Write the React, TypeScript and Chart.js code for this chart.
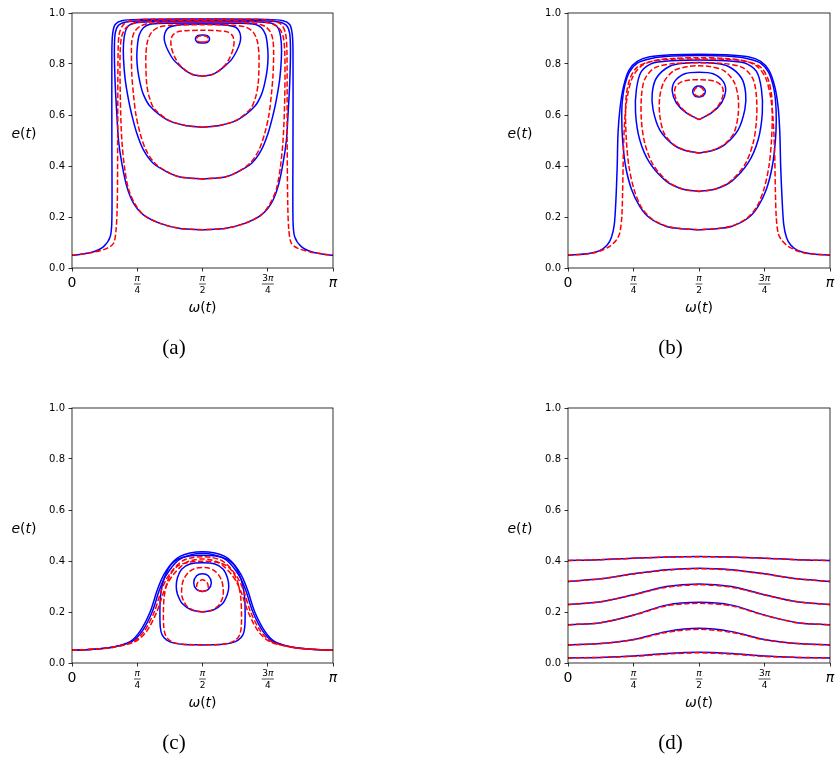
import React, { useEffect, useRef } from 'react';
import { Chart, registerables } from 'chart.js';
Chart.register(...registerables);

type Curve = [number, number][];
const PI = Math.PI;

// ---- axis ticks ----
const xTickValues = [0, PI / 4, PI / 2, (3 * PI) / 4, PI];
const xTickLabels = ['0', 'π/4', 'π/2', '3π/4', 'π'];
const yTickValues = [0, 0.2, 0.4, 0.6, 0.8, 1.0];
const xAxisLabel = 'ω(t)';
const yAxisLabel = 'e(t)';
const panelLetters = ['(a)', '(b)', '(c)', '(d)'];

// ---- panel (a) ----
const aOpenBlue: Curve = [[0,0.05],[0.13,0.055],[0.26,0.064],[0.38,0.084],[0.46,0.123],[0.48,0.19],[0.48,0.5],[0.48,0.85],[0.49,0.92],[0.52,0.955],[0.6,0.97],[0.8,0.975],[1.571,0.976],[2.34,0.975],[2.54,0.97],[2.62,0.955],[2.65,0.92],[2.66,0.85],[2.66,0.5],[2.66,0.19],[2.68,0.123],[2.76,0.084],[2.88,0.064],[3.01,0.055],[3.1416,0.05]];
const aOpenRed: Curve = [[0,0.05],[0.13,0.055],[0.26,0.062],[0.42,0.077],[0.5,0.097],[0.53,0.149],[0.545,0.25],[0.55,0.5],[0.555,0.85],[0.57,0.92],[0.62,0.955],[0.72,0.97],[0.95,0.975],[1.571,0.976],[2.19,0.975],[2.42,0.97],[2.52,0.955],[2.57,0.92],[2.587,0.85],[2.59,0.5],[2.597,0.25],[2.61,0.149],[2.64,0.097],[2.72,0.077],[2.88,0.062],[3.01,0.055],[3.1416,0.05]];
const aC1Blue: Curve = [[1.571,0.15],[1.3,0.155],[1.06,0.175],[0.86,0.208],[0.74,0.254],[0.66,0.319],[0.6,0.41],[0.56,0.5],[0.54,0.6],[0.52,0.72],[0.51,0.85],[0.52,0.92],[0.56,0.952],[0.65,0.965],[0.85,0.97],[1.571,0.971],[2.29,0.97],[2.49,0.965],[2.58,0.952],[2.62,0.92],[2.63,0.85],[2.62,0.72],[2.6,0.6],[2.58,0.5],[2.54,0.41],[2.48,0.319],[2.4,0.254],[2.28,0.208],[2.08,0.175],[1.84,0.155],[1.571,0.15]];
const aC1Red: Curve = [[1.571,0.15],[1.3,0.155],[1.06,0.175],[0.87,0.206],[0.76,0.25],[0.68,0.31],[0.63,0.4],[0.6,0.5],[0.585,0.62],[0.578,0.75],[0.58,0.85],[0.6,0.91],[0.66,0.945],[0.78,0.962],[1.0,0.968],[1.571,0.97],[2.14,0.968],[2.36,0.962],[2.48,0.945],[2.54,0.91],[2.56,0.85],[2.564,0.75],[2.557,0.62],[2.54,0.5],[2.51,0.4],[2.46,0.31],[2.38,0.25],[2.27,0.206],[2.08,0.175],[1.84,0.155],[1.571,0.15]];
const aC2Blue: Curve = [[1.571,0.349],[1.3,0.357],[1.18,0.371],[0.98,0.41],[0.86,0.463],[0.78,0.528],[0.72,0.6],[0.68,0.66],[0.64,0.74],[0.62,0.82],[0.62,0.88],[0.64,0.925],[0.68,0.95],[0.76,0.962],[0.95,0.966],[1.571,0.967],[2.19,0.966],[2.38,0.962],[2.46,0.95],[2.5,0.925],[2.52,0.88],[2.52,0.82],[2.5,0.74],[2.46,0.66],[2.42,0.6],[2.36,0.528],[2.28,0.463],[2.16,0.41],[1.96,0.371],[1.84,0.357],[1.571,0.349]];
const aC2Red: Curve = [[1.571,0.349],[1.3,0.357],[1.18,0.371],[1.0,0.41],[0.89,0.463],[0.82,0.528],[0.77,0.6],[0.74,0.68],[0.72,0.76],[0.715,0.84],[0.72,0.89],[0.75,0.925],[0.82,0.948],[0.95,0.96],[1.571,0.965],[2.19,0.96],[2.32,0.948],[2.39,0.925],[2.42,0.89],[2.427,0.84],[2.42,0.76],[2.4,0.68],[2.37,0.6],[2.32,0.528],[2.25,0.463],[2.14,0.41],[1.96,0.371],[1.84,0.357],[1.571,0.349]];
const aC3Blue: Curve = [[1.571,0.552],[1.35,0.56],[1.14,0.582],[0.94,0.634],[0.86,0.68],[0.82,0.725],[0.79,0.78],[0.78,0.83],[0.79,0.88],[0.81,0.915],[0.86,0.942],[0.93,0.955],[1.1,0.96],[1.571,0.961],[2.04,0.96],[2.21,0.955],[2.28,0.942],[2.33,0.915],[2.35,0.88],[2.36,0.83],[2.35,0.78],[2.32,0.725],[2.28,0.68],[2.2,0.634],[2.0,0.582],[1.79,0.56],[1.571,0.552]];
const aC3Red: Curve = [[1.571,0.552],[1.35,0.56],[1.16,0.58],[0.99,0.625],[0.93,0.67],[0.9,0.72],[0.89,0.78],[0.89,0.84],[0.91,0.89],[0.96,0.925],[1.05,0.945],[1.2,0.952],[1.571,0.954],[1.94,0.952],[2.09,0.945],[2.18,0.925],[2.23,0.89],[2.25,0.84],[2.25,0.78],[2.24,0.72],[2.21,0.67],[2.15,0.625],[1.98,0.58],[1.79,0.56],[1.571,0.552]];
const aC4Blue: Curve = [[1.571,0.752],[1.46,0.758],[1.38,0.771],[1.29,0.795],[1.22,0.817],[1.16,0.85],[1.12,0.882],[1.11,0.908],[1.13,0.93],[1.17,0.944],[1.27,0.952],[1.38,0.955],[1.571,0.957],[1.76,0.955],[1.87,0.952],[1.97,0.944],[2.01,0.93],[2.03,0.908],[2.02,0.882],[1.98,0.85],[1.92,0.817],[1.85,0.795],[1.76,0.771],[1.68,0.758],[1.571,0.752]];
const aC4Red: Curve = [[1.571,0.752],[1.46,0.758],[1.38,0.772],[1.3,0.795],[1.24,0.825],[1.2,0.86],[1.19,0.89],[1.21,0.912],[1.27,0.926],[1.4,0.931],[1.571,0.932],[1.74,0.931],[1.87,0.926],[1.93,0.912],[1.95,0.89],[1.94,0.86],[1.9,0.825],[1.84,0.795],[1.76,0.772],[1.68,0.758],[1.571,0.752]];
const aC5Blue: Curve = [[1.571,0.882],[1.51,0.885],[1.486,0.898],[1.51,0.911],[1.571,0.914],[1.63,0.911],[1.656,0.898],[1.63,0.885],[1.571,0.882]];
const aC5Red: Curve = [[1.571,0.886],[1.52,0.888],[1.5,0.898],[1.52,0.908],[1.571,0.911],[1.62,0.908],[1.64,0.898],[1.62,0.888],[1.571,0.886]];

// ---- panel (b) ----
const bOpenBlue: Curve = [[0,0.05],[0.25,0.057],[0.38,0.068],[0.47,0.09],[0.52,0.12],[0.555,0.17],[0.575,0.27],[0.59,0.4],[0.6,0.53],[0.625,0.63],[0.665,0.71],[0.73,0.775],[0.83,0.81],[0.98,0.828],[1.25,0.836],[1.571,0.838],[1.89,0.836],[2.16,0.828],[2.31,0.81],[2.41,0.775],[2.48,0.71],[2.52,0.63],[2.54,0.53],[2.55,0.4],[2.567,0.27],[2.587,0.17],[2.62,0.12],[2.67,0.09],[2.76,0.068],[2.89,0.057],[3.1416,0.05]];
const bOpenRed: Curve = [[0,0.05],[0.25,0.056],[0.38,0.066],[0.5,0.085],[0.58,0.11],[0.62,0.137],[0.645,0.2],[0.655,0.3],[0.665,0.46],[0.68,0.58],[0.71,0.67],[0.77,0.745],[0.87,0.79],[1.02,0.812],[1.26,0.822],[1.571,0.825],[1.88,0.822],[2.12,0.812],[2.27,0.79],[2.37,0.745],[2.43,0.67],[2.46,0.58],[2.477,0.46],[2.487,0.3],[2.497,0.2],[2.52,0.137],[2.56,0.11],[2.64,0.085],[2.76,0.066],[2.89,0.056],[3.1416,0.05]];
const bC1Blue: Curve = [[1.571,0.15],[1.37,0.154],[1.18,0.163],[0.98,0.196],[0.86,0.242],[0.76,0.31],[0.69,0.4],[0.655,0.5],[0.645,0.58],[0.65,0.65],[0.68,0.715],[0.74,0.77],[0.84,0.805],[1.0,0.822],[1.25,0.831],[1.571,0.833],[1.89,0.831],[2.14,0.822],[2.3,0.805],[2.4,0.77],[2.46,0.715],[2.49,0.65],[2.497,0.58],[2.487,0.5],[2.45,0.4],[2.38,0.31],[2.28,0.242],[2.16,0.196],[1.96,0.163],[1.77,0.154],[1.571,0.15]];
const bC1Red: Curve = [[1.571,0.15],[1.37,0.154],[1.18,0.164],[1.0,0.194],[0.88,0.238],[0.79,0.31],[0.73,0.4],[0.7,0.5],[0.69,0.6],[0.7,0.68],[0.74,0.74],[0.82,0.785],[0.97,0.808],[1.22,0.818],[1.571,0.82],[1.92,0.818],[2.17,0.808],[2.32,0.785],[2.4,0.74],[2.44,0.68],[2.45,0.6],[2.44,0.5],[2.41,0.4],[2.35,0.31],[2.26,0.238],[2.14,0.194],[1.96,0.164],[1.77,0.154],[1.571,0.15]];
const bC2Blue: Curve = [[1.571,0.3],[1.37,0.31],[1.18,0.34],[0.98,0.412],[0.86,0.503],[0.81,0.608],[0.82,0.7],[0.88,0.771],[1.02,0.804],[1.3,0.814],[1.571,0.816],[1.84,0.814],[2.12,0.804],[2.26,0.771],[2.32,0.7],[2.33,0.608],[2.28,0.503],[2.16,0.412],[1.96,0.34],[1.77,0.31],[1.571,0.3]];
const bC2Red: Curve = [[1.571,0.3],[1.37,0.31],[1.2,0.338],[1.02,0.405],[0.92,0.49],[0.88,0.58],[0.88,0.67],[0.92,0.74],[1.04,0.785],[1.28,0.802],[1.571,0.805],[1.86,0.802],[2.1,0.785],[2.22,0.74],[2.26,0.67],[2.26,0.58],[2.22,0.49],[2.12,0.405],[1.94,0.338],[1.77,0.31],[1.571,0.3]];
const bC3Blue: Curve = [[1.571,0.451],[1.4,0.462],[1.26,0.484],[1.1,0.542],[1.02,0.621],[1.01,0.686],[1.06,0.745],[1.22,0.791],[1.42,0.804],[1.571,0.806],[1.72,0.804],[1.92,0.791],[2.08,0.745],[2.13,0.686],[2.12,0.621],[2.04,0.542],[1.88,0.484],[1.74,0.462],[1.571,0.451]];
const bC3Red: Curve = [[1.571,0.451],[1.4,0.462],[1.26,0.486],[1.15,0.53],[1.1,0.6],[1.1,0.67],[1.15,0.73],[1.27,0.774],[1.44,0.79],[1.571,0.793],[1.7,0.79],[1.87,0.774],[1.99,0.73],[2.04,0.67],[2.04,0.6],[1.99,0.53],[1.88,0.486],[1.74,0.462],[1.571,0.451]];
const bC4Blue: Curve = [[1.571,0.582],[1.42,0.608],[1.3,0.647],[1.25,0.693],[1.28,0.732],[1.4,0.762],[1.571,0.768],[1.74,0.762],[1.86,0.732],[1.89,0.693],[1.84,0.647],[1.72,0.608],[1.571,0.582]];
const bC4Red: Curve = [[1.571,0.582],[1.44,0.605],[1.33,0.64],[1.28,0.68],[1.29,0.71],[1.36,0.73],[1.46,0.737],[1.571,0.738],[1.68,0.737],[1.78,0.73],[1.85,0.71],[1.86,0.68],[1.81,0.64],[1.7,0.605],[1.571,0.582]];
const bC5Blue: Curve = [[1.571,0.67],[1.52,0.675],[1.495,0.692],[1.52,0.709],[1.571,0.714],[1.62,0.709],[1.647,0.692],[1.62,0.675],[1.571,0.67]];
const bC5Red: Curve = [[1.571,0.673],[1.53,0.677],[1.51,0.69],[1.53,0.705],[1.571,0.709],[1.61,0.705],[1.63,0.69],[1.61,0.677],[1.571,0.673]];

// ---- panel (c) ----
const cOpenBlue: Curve = [[0,0.05],[0.3,0.055],[0.5,0.063],[0.7,0.084],[0.82,0.125],[0.94,0.2],[1.02,0.28],[1.08,0.33],[1.14,0.365],[1.22,0.398],[1.3,0.418],[1.42,0.431],[1.571,0.436],[1.72,0.431],[1.84,0.418],[1.92,0.398],[2.0,0.365],[2.06,0.33],[2.12,0.28],[2.2,0.2],[2.32,0.125],[2.44,0.084],[2.64,0.063],[2.84,0.055],[3.1416,0.05]];
const cXBlue: Curve = [[0,0.05],[0.3,0.055],[0.5,0.063],[0.72,0.084],[0.845,0.125],[0.965,0.2],[1.045,0.28],[1.105,0.328],[1.165,0.36],[1.245,0.392],[1.325,0.412],[1.44,0.425],[1.571,0.43],[1.7,0.425],[1.817,0.412],[1.897,0.392],[1.977,0.36],[2.037,0.328],[2.097,0.28],[2.177,0.2],[2.297,0.125],[2.42,0.084],[2.64,0.063],[2.84,0.055],[3.1416,0.05]];
const cC1Blue: Curve = [[1.571,0.071],[1.35,0.073],[1.23,0.078],[1.14,0.09],[1.085,0.11],[1.063,0.14],[1.058,0.2],[1.065,0.26],[1.09,0.31],[1.13,0.35],[1.19,0.385],[1.28,0.408],[1.41,0.42],[1.571,0.423],[1.73,0.42],[1.86,0.408],[1.95,0.385],[2.01,0.35],[2.05,0.31],[2.077,0.26],[2.084,0.2],[2.079,0.14],[2.057,0.11],[2.0,0.09],[1.91,0.078],[1.79,0.073],[1.571,0.071]];
const cC2Blue: Curve = [[1.571,0.2],[1.44,0.208],[1.33,0.232],[1.27,0.27],[1.255,0.3],[1.27,0.335],[1.32,0.368],[1.42,0.388],[1.571,0.393],[1.72,0.388],[1.82,0.368],[1.87,0.335],[1.887,0.3],[1.87,0.27],[1.81,0.232],[1.7,0.208],[1.571,0.2]];
const cC3Blue: Curve = [[1.571,0.28],[1.5,0.288],[1.465,0.315],[1.5,0.342],[1.571,0.35],[1.64,0.342],[1.677,0.315],[1.64,0.288],[1.571,0.28]];
const cOpenRed: Curve = [[0,0.05],[0.3,0.055],[0.5,0.062],[0.74,0.084],[0.87,0.125],[0.99,0.2],[1.07,0.28],[1.13,0.325],[1.19,0.355],[1.27,0.385],[1.35,0.404],[1.46,0.414],[1.571,0.417],[1.68,0.414],[1.79,0.404],[1.87,0.385],[1.95,0.355],[2.01,0.325],[2.07,0.28],[2.15,0.2],[2.27,0.125],[2.4,0.084],[2.64,0.062],[2.84,0.055],[3.1416,0.05]];
const cXRed: Curve = [[0,0.05],[0.3,0.055],[0.5,0.062],[0.76,0.084],[0.9,0.125],[1.02,0.2],[1.1,0.275],[1.16,0.318],[1.22,0.347],[1.3,0.375],[1.38,0.395],[1.48,0.405],[1.571,0.408],[1.66,0.405],[1.76,0.395],[1.84,0.375],[1.92,0.347],[1.98,0.318],[2.04,0.275],[2.12,0.2],[2.24,0.125],[2.38,0.084],[2.64,0.062],[2.84,0.055],[3.1416,0.05]];
const cC1Red: Curve = [[1.571,0.071],[1.35,0.073],[1.25,0.078],[1.17,0.09],[1.125,0.11],[1.105,0.14],[1.1,0.2],[1.11,0.26],[1.14,0.31],[1.19,0.35],[1.27,0.38],[1.4,0.395],[1.571,0.399],[1.74,0.395],[1.87,0.38],[1.95,0.35],[2.0,0.31],[2.03,0.26],[2.04,0.2],[2.037,0.14],[2.017,0.11],[1.97,0.09],[1.89,0.078],[1.79,0.073],[1.571,0.071]];
const cC2Red: Curve = [[1.571,0.2],[1.46,0.207],[1.37,0.228],[1.325,0.26],[1.32,0.29],[1.34,0.325],[1.4,0.355],[1.48,0.371],[1.571,0.375],[1.66,0.371],[1.74,0.355],[1.8,0.325],[1.82,0.29],[1.817,0.26],[1.77,0.228],[1.68,0.207],[1.571,0.2]];
const cC3Red: Curve = [[1.571,0.28],[1.52,0.285],[1.5,0.3],[1.52,0.318],[1.571,0.326],[1.62,0.318],[1.64,0.3],[1.62,0.285],[1.571,0.28]];

// ---- panel (d) ----
const dOmega = [0, 0.393, 0.785, 1.178, 1.571, 1.963, 2.356, 2.749, 3.1416];
const dBlue1 = [0.402, 0.405, 0.411, 0.416, 0.418, 0.416, 0.411, 0.405, 0.402];
const dBlue2 = [0.32, 0.33, 0.35, 0.366, 0.372, 0.366, 0.35, 0.33, 0.32];
const dBlue3 = [0.229, 0.24, 0.268, 0.3, 0.31, 0.3, 0.268, 0.24, 0.229];
const dBlue4 = [0.15, 0.158, 0.188, 0.227, 0.238, 0.227, 0.188, 0.158, 0.15];
const dBlue5 = [0.071, 0.076, 0.092, 0.123, 0.136, 0.123, 0.092, 0.076, 0.071];
const dBlue6 = [0.02, 0.022, 0.027, 0.037, 0.042, 0.037, 0.027, 0.022, 0.02];
const dRed1 = [0.402, 0.405, 0.411, 0.415, 0.417, 0.415, 0.411, 0.405, 0.402];
const dRed2 = [0.32, 0.33, 0.349, 0.364, 0.37, 0.364, 0.349, 0.33, 0.32];
const dRed3 = [0.229, 0.24, 0.267, 0.297, 0.307, 0.297, 0.267, 0.24, 0.229];
const dRed4 = [0.15, 0.158, 0.187, 0.224, 0.234, 0.224, 0.187, 0.158, 0.15];
const dRed5 = [0.071, 0.076, 0.091, 0.12, 0.132, 0.12, 0.091, 0.076, 0.071];
const dRed6 = [0.02, 0.022, 0.026, 0.035, 0.04, 0.035, 0.026, 0.022, 0.02];

const toCurve = (vals: number[]): Curve => vals.map((v, i) => [dOmega[i], v]);

const BLUE = '#0000ff';
const RED = '#ff0000';
const FONT = '"DejaVu Sans", sans-serif';
const isItalic = (ch: string) => /[a-zA-Z\u03b1-\u03c9]/.test(ch);

function mathWidth(ctx: CanvasRenderingContext2D, text: string, size: number) {
  let total = 0;
  Array.from(text).forEach((ch) => {
    ctx.font = `${isItalic(ch) ? 'italic ' : ''}${size}px ${FONT}`;
    total += ctx.measureText(ch).width;
  });
  return total;
}

function drawMath(ctx: CanvasRenderingContext2D, text: string, x: number, y: number, size: number) {
  const total = mathWidth(ctx, text, size);
  let cx = x - total / 2;
  ctx.textAlign = 'left';
  ctx.textBaseline = 'alphabetic';
  Array.from(text).forEach((ch) => {
    ctx.font = `${isItalic(ch) ? 'italic ' : ''}${size}px ${FONT}`;
    ctx.fillText(ch, cx, y);
    cx += ctx.measureText(ch).width;
  });
}

const decoPlugin = {
  id: 'deco',
  afterDraw(chart: any, _args: any, opts: any) {
    const { ctx, chartArea } = chart;
    const { left, right, top, bottom } = chartArea;
    ctx.save();
    ctx.strokeStyle = '#000';
    ctx.lineWidth = 0.8;
    ctx.strokeRect(left, top, right - left, bottom - top);
    ctx.fillStyle = '#000';
    const xs = chart.scales.x;
    xTickValues.forEach((v, i) => {
      const px = xs.getPixelForValue(v);
      const lab = xTickLabels[i];
      if (lab.includes('/')) {
        const [num, den] = lab.split('/');
        drawMath(ctx, num, px, bottom + 13, 9);
        drawMath(ctx, den, px, bottom + 24.5, 9);
        const w = Math.max(mathWidth(ctx, num, 9), mathWidth(ctx, den, 9)) + 1;
        ctx.beginPath();
        ctx.lineWidth = 0.7;
        ctx.moveTo(px - w / 2, bottom + 16);
        ctx.lineTo(px + w / 2, bottom + 16);
        ctx.stroke();
      } else {
        drawMath(ctx, lab, px, bottom + 19, 14);
      }
    });
    const cxm = (left + right) / 2;
    drawMath(ctx, xAxisLabel, cxm, bottom + 43.5, 14);
    drawMath(ctx, yAxisLabel, left - 48, top + 125, 14);
    ctx.font = `21px "Liberation Serif", "DejaVu Serif", serif`;
    ctx.textAlign = 'center';
    ctx.textBaseline = 'alphabetic';
    ctx.fillText(opts.letter, cxm - 28.5, bottom + 86);
    ctx.restore();
  },
};

interface PanelProps {
  left: number; top: number; width: number; height: number;
  axisLeft: number; axisRight: number; letter: string;
  blue: Curve[]; red: Curve[];
}

function Panel(p: PanelProps) {
  const ref = useRef<HTMLCanvasElement>(null);
  useEffect(() => {
    if (!ref.current) return;
    const mk = (c: Curve, color: string, dashed: boolean, order: number) => ({
      data: c.map(([x, y]) => ({ x, y })),
      borderColor: color,
      backgroundColor: color,
      borderWidth: 1.5,
      borderDash: dashed ? [5.5, 2.4] : [],
      showLine: true,
      pointRadius: 0,
      pointHoverRadius: 0,
      tension: 0.3,
      fill: false,
      order,
    });
    const datasets = [
      ...p.red.map((c) => mk(c, RED, true, 0)),
      ...p.blue.map((c) => mk(c, BLUE, false, 1)),
    ];
    const gridOpts = {
      display: true,
      drawOnChartArea: false,
      drawTicks: true,
      tickLength: 3.5,
      tickColor: '#000',
      tickWidth: 0.8,
    };
    const chart = new Chart(ref.current, {
      type: 'scatter',
      data: { datasets: datasets as any },
      options: {
        responsive: false,
        animation: false,
        devicePixelRatio: 1,
        events: [],
        layout: { padding: { left: 0, top: 13, right: p.width - p.axisRight, bottom: 0 } },
        plugins: {
          legend: { display: false },
          tooltip: { enabled: false },
          deco: { letter: p.letter },
        } as any,
        scales: {
          x: {
            type: 'linear',
            min: 0,
            max: PI,
            afterBuildTicks: (s: any) => { s.ticks = xTickValues.map((v) => ({ value: v })); },
            afterFit: (s: any) => { s.height = p.height - 268; },
            ticks: { display: false },
            grid: gridOpts,
            border: { display: false },
          },
          y: {
            type: 'linear',
            min: 0,
            max: 1,
            afterBuildTicks: (s: any) => { s.ticks = yTickValues.map((v) => ({ value: v })); },
            afterFit: (s: any) => { s.width = p.axisLeft; },
            ticks: {
              padding: 3.5,
              color: '#000',
              font: { family: 'DejaVu Sans', size: 10 },
              callback: (v: any) => Number(v).toFixed(1),
            },
            grid: gridOpts,
            border: { display: false },
          },
        },
      } as any,
      plugins: [decoPlugin],
    });
    return () => chart.destroy();
  }, []);
  return (
    <canvas
      ref={ref}
      width={p.width}
      height={p.height}
      style={{ position: 'absolute', left: p.left, top: p.top, width: p.width, height: p.height }}
    />
  );
}

export default function App() {
  const panels: PanelProps[] = [
    {
      left: 0, top: 0, width: 417, height: 362, axisLeft: 72, axisRight: 333, letter: panelLetters[0],
      blue: [aOpenBlue, aC1Blue, aC2Blue, aC3Blue, aC4Blue, aC5Blue],
      red: [aOpenRed, aC1Red, aC2Red, aC3Red, aC4Red, aC5Red],
    },
    {
      left: 417, top: 0, width: 418, height: 362, axisLeft: 151, axisRight: 413, letter: panelLetters[1],
      blue: [bOpenBlue, bC1Blue, bC2Blue, bC3Blue, bC4Blue, bC5Blue],
      red: [bOpenRed, bC1Red, bC2Red, bC3Red, bC4Red, bC5Red],
    },
    {
      left: 0, top: 395, width: 417, height: 362, axisLeft: 72, axisRight: 333, letter: panelLetters[2],
      blue: [cOpenBlue, cXBlue, cC1Blue, cC2Blue, cC3Blue],
      red: [cOpenRed, cXRed, cC1Red, cC2Red, cC3Red],
    },
    {
      left: 417, top: 395, width: 418, height: 362, axisLeft: 151, axisRight: 413, letter: panelLetters[3],
      blue: [dBlue1, dBlue2, dBlue3, dBlue4, dBlue5, dBlue6].map(toCurve),
      red: [dRed1, dRed2, dRed3, dRed4, dRed5, dRed6].map(toCurve),
    },
  ];
  return (
    <div style={{ position: 'absolute', left: 0, top: 0, width: 835, height: 757, overflow: 'hidden', background: '#fff' }}>
      {panels.map((p, i) => <Panel key={i} {...p} />)}
    </div>
  );
}
